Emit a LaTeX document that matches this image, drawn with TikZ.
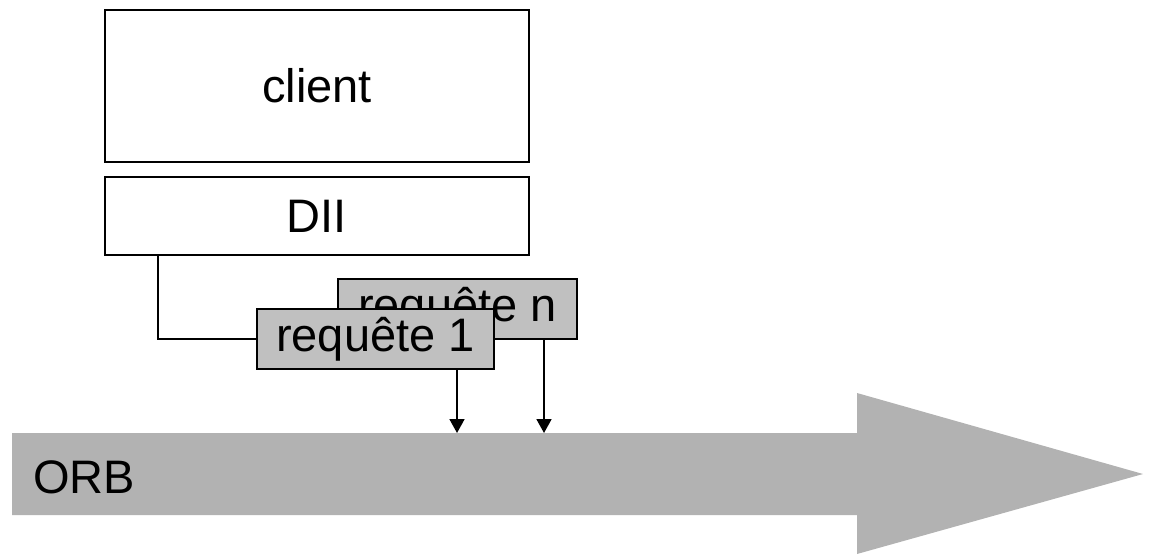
\documentclass[tikz,border=0pt]{standalone}
\usepackage{fontspec}
\setmainfont{Liberation Sans}
\usetikzlibrary{arrows.meta}
\begin{document}
\begin{tikzpicture}[x=1pt,y=-1pt,
  box/.style={draw=black,line width=1.8pt,fill=white,inner sep=0pt,font=\fontsize{47}{50}\selectfont},
  reqbox/.style={box,fill=reqgray,minimum height=60pt},
  wire/.style={draw=black,line width=1.8pt},
  drop/.style={wire,-{Triangle[length=14pt,width=15pt]}}]
\definecolor{reqgray}{HTML}{C0C0C0}
\definecolor{orbgray}{HTML}{B2B2B2}
\useasboundingbox (0,0) rectangle (1149,555);

% ORB band with its arrow head
\fill[orbgray] (12,433) -- (857,433) -- (857,393) -- (1143,474) -- (857,554) -- (857,515) -- (12,515) -- cycle;
\coordinate (orbtop) at (12,433);
\node[font=\fontsize{47}{50}\selectfont,anchor=west,inner sep=0pt] (orb) at (33,477) {ORB};

% client and its dynamic invocation interface
\node[box,minimum width=424pt,minimum height=152pt] (client) at (317,86) {client};
\node[box,minimum width=424pt,minimum height=78pt] (dii) at (317,216) {DII};

% requests issued through the DII
\node[reqbox,minimum width=239pt] (reqn) at (457.5,309) {requête n};
\draw[wire] ([xshift=54pt]dii.south west) |- (375,339);
\node[reqbox,minimum width=237pt] (req1) at (375.5,339) {requête 1};

% requests handed to the ORB
\draw[drop] ([xshift=81.5pt]req1.south) -- ([xshift=81.5pt]req1.south |- orbtop);
\draw[drop] ([xshift=86.5pt]reqn.south) -- ([xshift=86.5pt]reqn.south |- orbtop);
\end{tikzpicture}
\end{document}
